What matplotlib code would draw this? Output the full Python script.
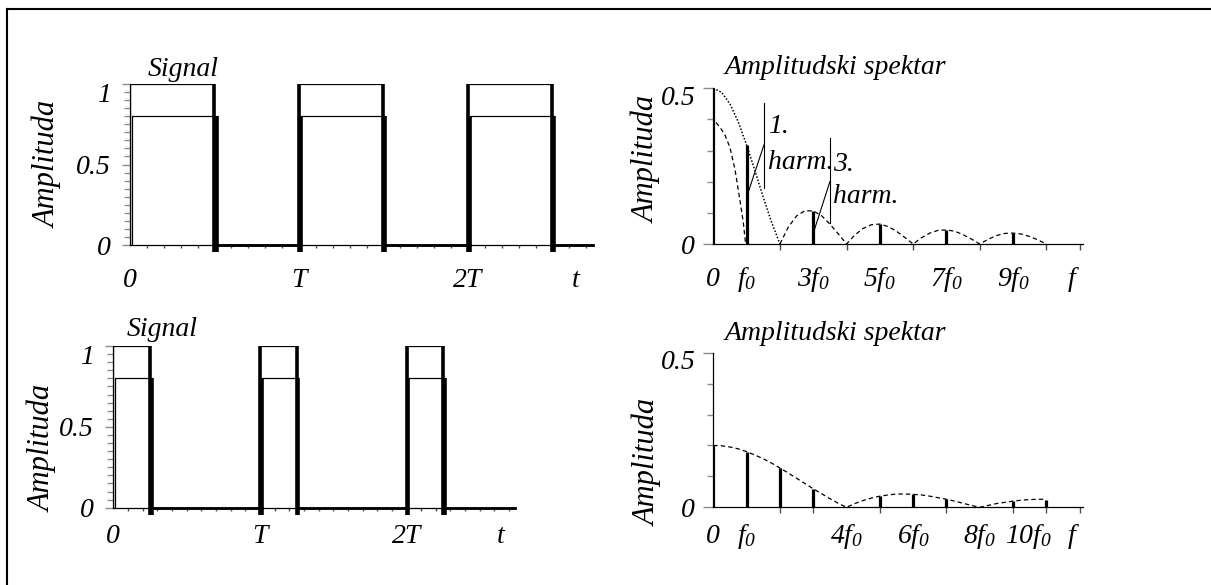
import numpy as np
import matplotlib
matplotlib.use('Agg')
import matplotlib.pyplot as plt
from matplotlib.lines import Line2D
from matplotlib.transforms import ScaledTranslation

plt.rcParams['font.family'] = 'Liberation Serif'
plt.rcParams['font.style'] = 'italic'
plt.rcParams['mathtext.fontset'] = 'custom'
plt.rcParams['mathtext.rm'] = 'Liberation Serif:italic'
plt.rcParams['mathtext.it'] = 'Liberation Serif:italic'
plt.rcParams['mathtext.default'] = 'it'

# ---- data ----
# two overlaid pulse trains (time in periods T): amplitude 1 and 0.8, the second one a hair later
sig_amp = [1.0, 0.8]
sig_lag = [0.0, 0.012]
top_rise = [0, 1, 2]
top_fall = [0.5, 1.5, 2.5]
bot_rise = [0, 1, 2]
bot_fall = [0.25, 1.25, 2.25]
t_end = 2.74

# line spectrum of the 50 % train
top_n = [0, 1, 3, 5, 7, 9]
top_amp = [0.5, 0.318, 0.106, 0.064, 0.045, 0.035]
# envelope, read every quarter of f0 from 0 to 10 f0
env_f = [i * 0.25 for i in range(41)]
top_env = [0.5, 0.487, 0.450, 0.392, 0.318, 0.235, 0.150, 0.070, 0.0,
           0.054, 0.090, 0.107, 0.106, 0.091, 0.064, 0.033, 0.0,
           0.029, 0.050, 0.062, 0.064, 0.056, 0.041, 0.021, 0.0,
           0.020, 0.035, 0.044, 0.045, 0.041, 0.030, 0.016, 0.0,
           0.015, 0.027, 0.034, 0.035, 0.032, 0.024, 0.013, 0.0]
# short dashed curve near the origin
near_f = [0.08, 0.2, 0.35, 0.5, 0.65, 0.8, 0.9, 0.97]
near_y = [0.39, 0.375, 0.35, 0.31, 0.24, 0.14, 0.07, 0.0]

# line spectrum of the 25 % train
bot_n = [0, 1, 2, 3, 5, 6, 7, 9, 10]
bot_amp = [0.2, 0.18, 0.127, 0.06, 0.036, 0.042, 0.026, 0.02, 0.025]
bot_env = [0.2, 0.199, 0.195, 0.189, 0.180, 0.169, 0.157, 0.143, 0.127,
           0.111, 0.094, 0.077, 0.060, 0.044, 0.028, 0.013, 0.0,
           0.012, 0.022, 0.030, 0.036, 0.040, 0.043, 0.043, 0.042,
           0.040, 0.036, 0.031, 0.026, 0.020, 0.013, 0.006, 0.0,
           0.006, 0.012, 0.016, 0.020, 0.023, 0.025, 0.026, 0.026]

W, H = 1211, 585
fig = plt.figure(figsize=(W / 100, H / 100), dpi=100)


def px_axes(l, t, r, b):
    return fig.add_axes([l / W, 1 - b / H, (r - l) / W, (b - t) / H])


def fig_text(x, y, s, **kw):
    fig.text(x / W, 1 - y / H, s, ha='center', va='center', **kw)


def shift_top_label(ax, dy_px):
    lab = ax.get_yticklabels()[-1]
    lab.set_transform(lab.get_transform() + ScaledTranslation(0, -dy_px / 100, fig.dpi_scale_trans))


def draw_signal(ax, rise, fall, xpad):
    for amp, lag in zip(sig_amp, sig_lag):
        r = [x + lag for x in rise]
        f = [x + lag for x in fall]
        for a, b in zip(r, f):
            ax.plot([a, a, b], [0, amp, amp], color='k', lw=0.9)
        ax.vlines(r[1:] + f, -0.045, amp, color='k', lw=2.6, clip_on=False)
        for a, b in zip(f, r[1:] + [t_end]):
            ax.plot([a, b], [0, 0], color='k', lw=1.8, clip_on=False)

    ax.set_xlim(0, t_end)
    ax.set_ylim(0, 1)
    for s in ['top', 'right']:
        ax.spines[s].set_visible(False)
    ax.spines['left'].set_linewidth(0.9)
    ax.spines['bottom'].set_linewidth(0.9)
    ax.set_yticks([0, 0.5, 1], ['0', '0.5', '1'])
    ax.set_yticks(np.arange(0.05, 1, 0.05), minor=True)
    ax.set_xticks([0, 1, 2, 2.64], ['0', 'T', '2T', 't'])
    ax.set_xticks(np.arange(0.1, 2.71, 0.1), minor=True)
    ax.tick_params(axis='x', which='major', length=0, pad=xpad, labelsize=20)
    ax.tick_params(axis='x', which='minor', length=2.5, width=1, color='0.3')
    ax.tick_params(axis='y', which='major', length=6, width=1, color='0.55', pad=8, labelsize=20)
    ax.tick_params(axis='y', which='minor', length=4, width=1, color='0.55')
    for lab in ax.get_xticklabels():
        lab.set_verticalalignment('baseline')
    shift_top_label(ax, 8)


def style_spectrum(ax, xlabels, xpos, xpad):
    ax.set_xlim(0, 11.1)
    ax.set_ylim(0, 0.5)
    for s in ['top', 'right']:
        ax.spines[s].set_visible(False)
    ax.spines['left'].set_linewidth(0.9)
    ax.spines['bottom'].set_linewidth(0.9)
    ax.set_yticks([0, 0.5], ['0', '0.5'])
    ax.set_yticks([0.1, 0.2, 0.3, 0.4], minor=True)
    ax.set_xticks(xpos, xlabels)
    ax.set_xticks(range(1, 12), minor=True)
    ax.tick_params(axis='x', which='major', length=0, pad=xpad, labelsize=20)
    ax.tick_params(axis='x', which='minor', length=4, width=1, color='0.3')
    ax.tick_params(axis='y', which='major', length=7, width=1, color='0.55', pad=6, labelsize=20)
    ax.tick_params(axis='y', which='minor', length=4, width=1, color='0.55')
    for lab in ax.get_xticklabels():
        lab.set_verticalalignment('baseline')
    shift_top_label(ax, 7)


# ---- signals ----
ax1 = px_axes(130, 84, 593, 245)
draw_signal(ax1, top_rise, top_fall, 30)
ax3 = px_axes(113.3, 346, 515, 507.7)
draw_signal(ax3, bot_rise, bot_fall, 25.5)

# ---- spectra ----
ax2 = px_axes(713.3, 88.3, 1083, 244)
ax2.vlines(top_n, 0, top_amp, color='k', lw=2.3)
ax2.plot(env_f[:9], top_env[:9], color='k', lw=1.1, ls=(0, (1, 1.2)))
ax2.plot(env_f[8:], top_env[8:], color='k', lw=0.9, ls=(0, (3.5, 2.5)))
ax2.plot(near_f, near_y, color='k', lw=0.9, ls=(0, (3.5, 2.5)))
style_spectrum(ax2, ['0', '$f_0$', '$3f_0$', '$5f_0$', '$7f_0$', '$9f_0$', '$f$'],
               [0, 1, 3, 5, 7, 9, 10.8], 30)

# harmonic call-outs
ax2.plot([1.52, 1.52], [0.181, 0.452], color='k', lw=0.8)
ax2.plot([1.02, 1.52], [0.157, 0.318], color='k', lw=0.8)
ax2.text(1.64, 0.376, '1.', ha='left', va='center', fontsize=20)
ax2.text(1.63, 0.262, 'harm.', ha='left', va='center', fontsize=20)
ax2.plot([3.5, 3.5], [0.066, 0.339], color='k', lw=0.8)
ax2.plot([3.0, 3.5], [0.034, 0.2], color='k', lw=0.8)
ax2.text(3.59, 0.254, '3.', ha='left', va='center', fontsize=20)
ax2.text(3.59, 0.153, 'harm.', ha='left', va='center', fontsize=20)

ax4 = px_axes(713.3, 352.7, 1083, 507.3)
ax4.vlines(bot_n, 0, bot_amp, color='k', lw=2.3)
ax4.plot(env_f, bot_env, color='k', lw=0.9, ls=(0, (3.5, 2.5)))
style_spectrum(ax4, ['0', '$f_0$', '$4f_0$', '$6f_0$', '$8f_0$', '$10f_0$', '$f$'],
               [0, 1, 4, 6, 8, 9.45, 10.8], 25.5)

# ---- titles and axis names ----
fig_text(183, 70, 'Signal', fontsize=20)
fig_text(162, 330, 'Signal', fontsize=20)
fig_text(835, 68, 'Amplitudski spektar', fontsize=20)
fig_text(835, 333, 'Amplitudski spektar', fontsize=20)
fig_text(48, 164, 'Amplituda', fontsize=22, rotation=90)
fig_text(43, 448, 'Amplituda', fontsize=22, rotation=90)
fig_text(647, 159, 'Amplituda', fontsize=22, rotation=90)
fig_text(648, 462, 'Amplituda', fontsize=22, rotation=90)

# frame
fig.add_artist(Line2D([7 / W, 7 / W], [0, 1 - 9 / H], color='k', lw=1.5))
fig.add_artist(Line2D([7 / W, 1], [1 - 9 / H, 1 - 9 / H], color='k', lw=1.5))

fig.savefig('out.png', dpi=100)
